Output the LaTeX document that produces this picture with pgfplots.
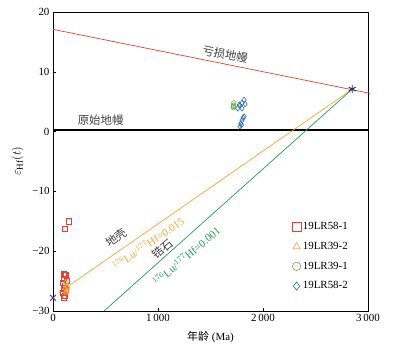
\documentclass[border=0pt]{standalone}
\usepackage{pgfplots}
\pgfplotsset{compat=1.18}
\usepackage{fontspec}
\setmainfont{Liberation Serif}
\newfontfamily\cjk{Noto Sans CJK SC}
\definecolor{cred}{RGB}{236,62,52}
\definecolor{corange}{RGB}{247,166,50}
\definecolor{cgreen}{RGB}{100,172,70}
\definecolor{cgline}{RGB}{30,160,80}
\definecolor{cblue}{RGB}{46,109,180}
\definecolor{cnavy}{RGB}{40,45,100}
\definecolor{cpurple}{RGB}{110,50,140}
\begin{document}
\begin{tikzpicture}
\begin{axis}[
  name=ax,
  scale only axis,
  width=315bp, height=299bp,
  xmin=0, xmax=3000, ymin=-30, ymax=20,
  xtick={0,1000,2000,3000},
  xticklabels={0,1\,000,2\,000,3\,000},
  ytick={-30,-20,-10,0,10,20},
  yticklabels={−30,−20,−10,0,10,20},
  tick align=inside,
  xtick pos=bottom, ytick pos=left,
  major tick length=3bp,
  tick style={black, line width=0.6pt},
  axis line style={line width=0.8pt},
  ticklabel style={font=\fontsize{11}{12}\selectfont},
  xlabel={{\cjk 年龄} (Ma)},
  ylabel={$\varepsilon_{\mathrm{Hf}}(t)$},
  xlabel style={font=\fontsize{11}{12}\selectfont, yshift=-2bp},
  ylabel style={font=\fontsize{13}{14}\selectfont, yshift=2bp},
  clip=false,
  legend style={draw=none, fill=none, at={(0.75,0.31)}, anchor=north west,
    font=\fontsize{11}{12}\selectfont, row sep=7pt},
  legend cell align=left,
  legend image post style={mark size=4.2pt},
]
% legend series
\addplot[only marks, mark=square, mark size=2.6pt, cred, mark options={line width=0.6pt}] coordinates {
(112,-16.3)(152,-15.0)(100,-23.8)(110,-24.0)(120,-23.9)(105,-24.6)(95,-25.3)(115,-25.8)(100,-26.2)(125,-26.5)(95,-26.9)(110,-27.4)(100,-27.7)(130,-25.0)};
\addlegendentry{19LR58-1}
\addplot[only marks, mark=triangle, mark size=2.6pt, corange, mark options={line width=0.6pt}] coordinates {
(120,-25.2)(130,-25.8)(115,-26.2)(135,-26.6)(125,-27.0)(140,-26.0)(120,-26.8)};
\addlegendentry{19LR39-2}
\addplot[only marks, mark=o, mark size=2.3pt, cgreen, mark options={line width=0.6pt}] coordinates {
(1720,4.0)(1720,4.4)(1722,4.8)(1716,4.2)};
\addlegendentry{19LR39-1}
\addplot[only marks, mark=diamond, mark size=2.8pt, cblue, mark options={line width=0.6pt}] coordinates {
(1760,3.9)(1780,4.3)(1800,4.8)(1820,5.3)(1830,4.6)(1800,3.9)(1775,4.5)
(1780,0.9)(1790,1.4)(1800,1.9)(1810,2.3)(1820,2.5)(1795,1.1)};
\addlegendentry{19LR58-2}
% reference lines
\addplot[cred, line width=0.7pt, forget plot] coordinates {(0,17.1)(3020,6.4)};
\addplot[black, line width=1.5pt, forget plot] coordinates {(0,0.3)(3000,0.3)};
\addplot[corange, line width=0.7pt, forget plot] coordinates {(50,-27.0)(2850,7.1)};
\addplot[cgline, line width=0.7pt, forget plot] coordinates {(486,-30)(2850,7.1)};
\addplot[only marks, mark=asterisk, mark size=4pt, cnavy, mark options={line width=1pt}, forget plot] coordinates {(2850,7.1)};
\addplot[only marks, mark=x, mark size=4pt, cpurple, mark options={line width=1pt}, forget plot] coordinates {(0,-27.8)};
% texts
\node[rotate=-11.4, font=\cjk\fontsize{11.5}{12}\selectfont, text=black!75] at (axis cs:1640,12.9) {亏损地幔};
\node[font=\cjk\fontsize{11.5}{12}\selectfont, text=black!75] at (axis cs:454,1.9) {原始地幔};
\node[rotate=34.7, font=\cjk\fontsize{11.5}{12}\selectfont, text=black!75] at (axis cs:600,-17.7) {地壳};
\node[rotate=34.7, font=\fontsize{11}{12}\selectfont, text=corange] at (axis cs:905,-18.7) {$^{176}$Lu/$^{177}$Hf=0.015};
\node[rotate=40.6, font=\cjk\fontsize{11.5}{12}\selectfont, text=black!75] at (axis cs:1040,-19.6) {锆石};
\node[rotate=40.6, font=\fontsize{11}{12}\selectfont, text=cgline] at (axis cs:1270,-20.8) {$^{176}$Lu/$^{177}$Hf=0.001};
\end{axis}
\pgfresetboundingbox
\path ([shift={(-53bp,-39bp)}]ax.south west) rectangle ([shift={(26bp,12bp)}]ax.north east);
\end{tikzpicture}
\end{document}
